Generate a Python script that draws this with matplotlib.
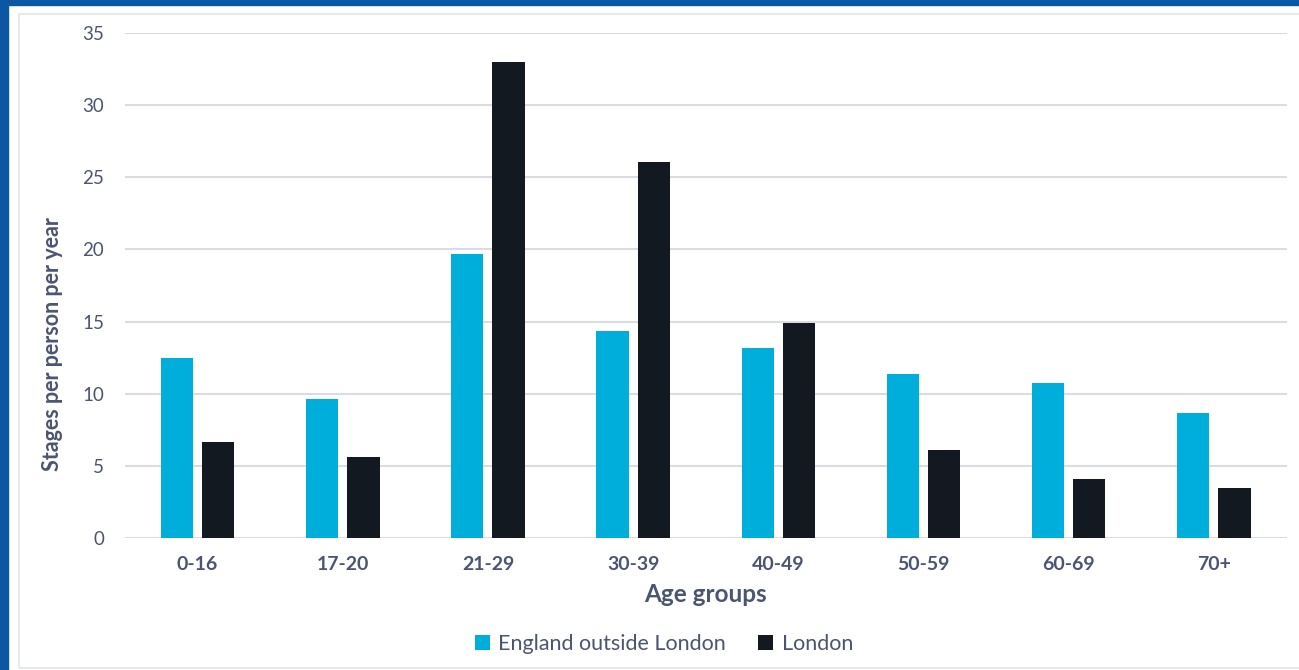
import numpy as np
import matplotlib.pyplot as plt
from matplotlib.patches import Rectangle

plt.rcParams['font.family'] = ['Lato', 'DejaVu Sans']

# Data
age_groups = ["0-16", "17-20", "21-29", "30-39", "40-49", "50-59", "60-69", "70+"]
outside_london = [12.5, 9.6, 19.7, 14.35, 13.15, 11.35, 10.75, 8.65]
london = [6.65, 5.6, 33.0, 26.05, 14.9, 6.1, 4.1, 3.5]
y_ticks = [0, 5, 10, 15, 20, 25, 30, 35]

CYAN = "#00AEDB"
DARK = "#121920"
TEXT = "#4A5570"
GRID = "#D9DDE3"
FRAME = "#0B57A4"

W, H = 1299, 670
fig = plt.figure(figsize=(W / 100, H / 100), dpi=100)
fig.patch.set_facecolor("white")

# blue frame and light inner border
fig.patches.append(Rectangle((0, 1 - 5 / H), 1, 5 / H, transform=fig.transFigure,
                             color=FRAME, zorder=0))
fig.patches.append(Rectangle((0, 0), 8 / W, 1, transform=fig.transFigure,
                             color=FRAME, zorder=0))
fig.patches.append(Rectangle((19 / W, 2 / H), 1.2, 1 - 16 / H, transform=fig.transFigure,
                             fill=False, edgecolor="#E1E5EA", lw=1.2, zorder=0))

ax = fig.add_axes([125 / W, 1 - 538 / H, (1286.5 - 125) / W, (538 - 33) / H])
ax.set_facecolor("none")

x = np.arange(len(age_groups))
width = 0.222
offset = 0.142
ax.bar(x - offset, outside_london, width, color=CYAN, label="England outside London", zorder=3)
ax.bar(x + offset, london, width, color=DARK, label="London", zorder=3)

ax.set_xlim(-0.5, len(age_groups) - 0.5)
ax.set_ylim(0, 35)
ax.set_yticks(y_ticks)
ax.set_xticks(x)
ax.set_xticklabels(age_groups, fontsize=14, fontweight="bold", color=TEXT)
ax.tick_params(axis="y", labelsize=13.5, labelcolor=TEXT, length=0, pad=15)
ax.tick_params(axis="x", length=0, pad=13)
ax.grid(axis="y", color=GRID, lw=1.5, zorder=0)
for s in ax.spines.values():
    s.set_visible(False)

ax.set_xlabel("Age groups", fontsize=17.5, fontweight="bold", color=TEXT, labelpad=7)
ax.set_ylabel("Stages per person per year", fontsize=15.5, fontweight="bold", color=TEXT)
ax.yaxis.set_label_coords(-0.0535, 0.384)

fig.legend(loc="center", bbox_to_anchor=(664 / W, 1 - 644 / H), ncol=2, frameon=False,
           fontsize=15.5, labelcolor=TEXT, handlelength=0.7, handleheight=0.7,
           handletextpad=0.4, columnspacing=1.5)

fig.savefig("out.png", dpi=100)
